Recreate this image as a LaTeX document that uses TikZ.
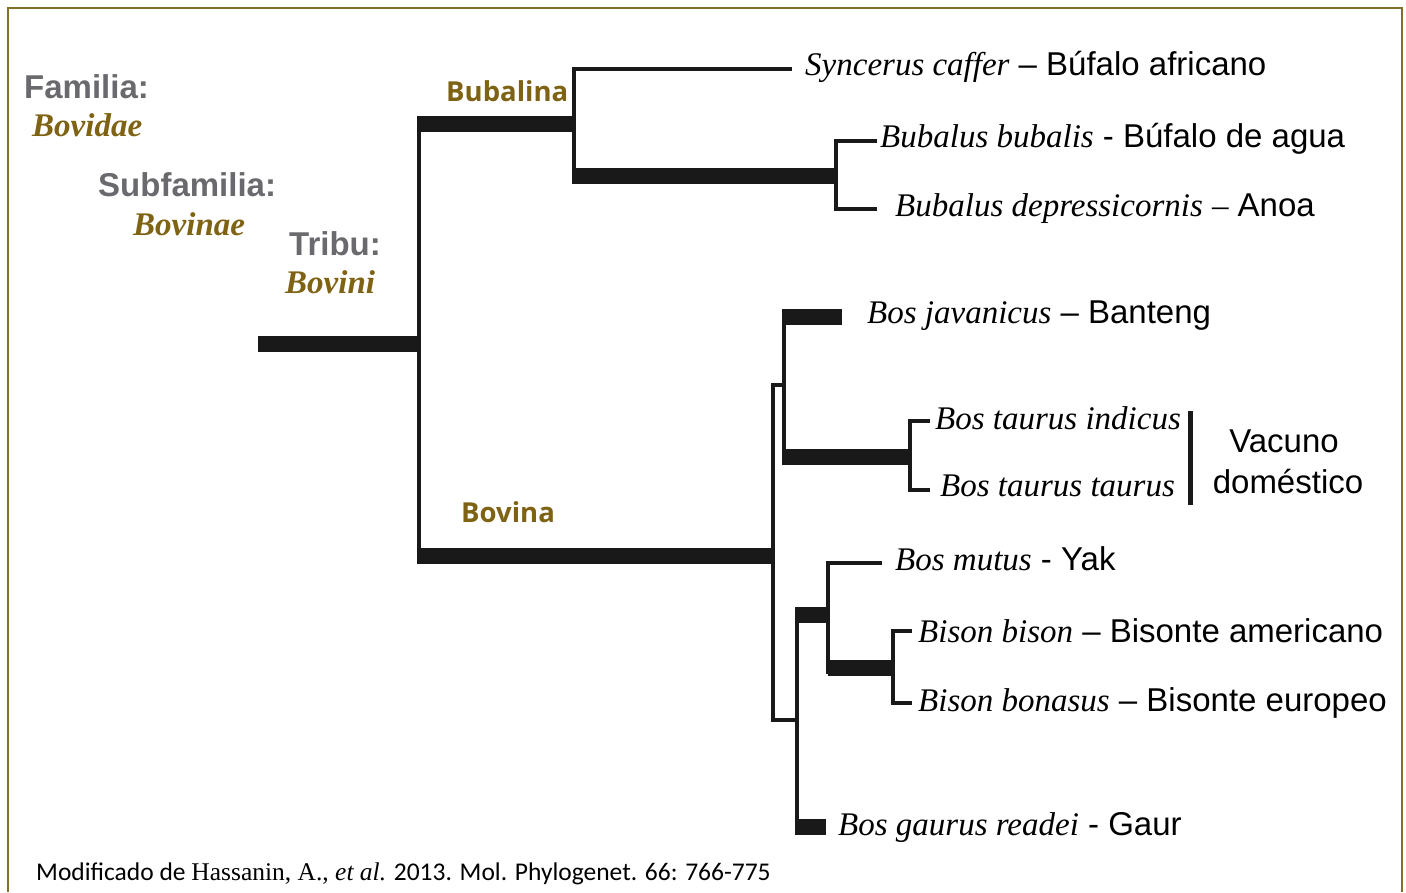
\documentclass[tikz,border=0pt]{standalone}
\usepackage{fontspec}
\setmainfont{Liberation Sans}
\newfontfamily\ser{Liberation Serif}
\newfontfamily\osans{Open Sans}
\newfontfamily\carl{Carlito}
\definecolor{mygold}{RGB}{127,99,20}
\definecolor{mygray}{RGB}{106,106,110}
\definecolor{myframe}{RGB}{128,112,40}
\begin{document}
\begin{tikzpicture}[x=1pt,y=-1pt,
  thinbr/.style={line width=3.5pt, line join=miter, black!90},
  thickbr/.style={line width=16pt, black!90},
  lbl/.style={anchor=mid west, inner sep=0pt, font=\fontsize{33}{38}\selectfont},
  rank/.style={anchor=mid west, inner sep=0pt, font=\fontsize{33}{38}\selectfont\bfseries, text=mygray},
  taxon/.style={anchor=mid west, inner sep=0pt, font=\fontsize{33}{38}\selectfont\ser\bfseries\itshape, text=mygold},
  subtr/.style={anchor=mid west, inner sep=0pt, font=\fontsize{27.5}{32}\selectfont\osans\bfseries, text=mygold}]
\useasboundingbox (0,0) rectangle (1406,892);
\fill[white] (0,0) rectangle (1406,892);
% frame
\draw[myframe, line width=2pt] (8,892) -- (8,8) -- (1402,8) -- (1402,892);

% coordinates
\coordinate (rootL) at (258,344);
\coordinate (root) at (419,344);
\coordinate (bubA) at (419,124);
\coordinate (bubB) at (575,124);
\coordinate (bovA) at (419,556);
\coordinate (bovB) at (775,556);
\coordinate (synT) at (792,69);
\coordinate (bubuL) at (572,176);
\coordinate (bubuR) at (836,176);
\coordinate (bubT) at (877,141);
\coordinate (depT) at (877,209);
\coordinate (bosN) at (773,385);
\coordinate (bosNR) at (784,385);
\coordinate (lowN) at (797,720);
\coordinate (javL) at (782,317);
\coordinate (javR) at (842,317);
\coordinate (tauL) at (782,457);
\coordinate (tauR) at (910,457);
\coordinate (indT) at (930,421);
\coordinate (tauT) at (930,490);
\coordinate (yakL) at (795,615);
\coordinate (yakR) at (828,615);
\coordinate (mutT) at (882,563);
\coordinate (bisL) at (828,668);
\coordinate (bisR) at (893,668);
\coordinate (bisT) at (912,631);
\coordinate (bonT) at (912,703);
\coordinate (gauL) at (795,827);
\coordinate (gauR) at (826,827);

% thin connectors
\draw[thinbr] (419,118) -- (419,562);
\draw[thinbr] (synT) -- (574,69) -- (574,182);
\draw[thinbr] (bubT) -- (836,141) -- (836,209) -- (depT);
\draw[thinbr] (bosNR) -- (bosN) -- (773,720) -- (lowN);
\draw[thinbr] (784,312) -- (784,462);
\draw[thinbr] (indT) -- (910,421) -- (910,490) -- (tauT);
\draw[thinbr] (797,612) -- (797,832);
\draw[thinbr] (mutT) -- (828,563) -- (828,674);
\draw[thinbr] (bisT) -- (893,631) -- (893,703) -- (bonT);

% thick branches
\draw[thickbr] (rootL) -- (root);
\draw[thickbr] (417,124) -- (bubB);
\draw[thickbr] (417,556) -- (bovB);
\draw[thickbr] (bubuL) -- (bubuR);
\draw[thickbr] (javL) -- (javR);
\draw[thickbr] (tauL) -- (tauR);
\draw[thickbr] (yakL) -- (yakR);
\draw[thickbr] (bisL) -- (bisR);
\draw[thickbr] (gauL) -- (gauR);

% vacuno bar
\draw[line width=5pt, black!90] (1190,411) -- (1190,505);

% rank labels
\node[rank] (fam) at (24,96) {Familia:};
\node[taxon] (famt) at (32,134) {Bovidae};
\node[rank] (sub) at (98,194) {Subfamilia:};
\node[taxon] (subt) at (133,233) {Bovinae};
\node[rank] (tri) at (289,253) {Tribu:};
\node[taxon] (trit) at (285,291) {Bovini};
\node[subtr] (bubalina) at (446,99) {Bubalina};
\node[subtr] (bovina) at (461,520) {Bovina};

% species labels
\node[lbl] (syn) at (805,73) {{\ser\itshape Syncerus caffer} – Búfalo africano};
\node[lbl] (bub) at (880,145) {{\ser\itshape Bubalus bubalis} - Búfalo de agua};
\node[lbl] (dep) at (895,214) {{\ser\itshape Bubalus depressicornis} {\ser –} Anoa};
\node[lbl] (jav) at (867,321) {{\ser\itshape Bos javanicus} – Banteng};
\node[lbl] (ind) at (935,427) {{\ser\itshape Bos taurus indicus}};
\node[lbl] (tau) at (940,494) {{\ser\itshape Bos taurus taurus}};
\node[anchor=mid, inner sep=0pt, font=\fontsize{33}{38}\selectfont] (vac1) at (1284,450) {Vacuno};
\node[anchor=mid, inner sep=0pt, font=\fontsize{33}{38}\selectfont] (vac2) at (1288,491) {doméstico};
\node[lbl] (mut) at (895,568) {{\ser\itshape Bos mutus} - Yak};
\node[lbl] (bis) at (918,640) {{\ser\itshape Bison bison} – Bisonte americano};
\node[lbl] (bon) at (918,709) {{\ser\itshape Bison bonasus} – Bisonte europeo};
\node[lbl] (gau) at (838,833) {{\ser\itshape Bos gaurus readei} - Gaur};

% footer
\node[anchor=base west, inner sep=0pt, font=\fontsize{25.5}{30}\selectfont\carl] (foot) at (36,880)
  {Modificado de {\ser Hassanin, A., \itshape et al.} 2013. Mol. Phylogenet. 66: 766-775};
\end{tikzpicture}
\end{document}
